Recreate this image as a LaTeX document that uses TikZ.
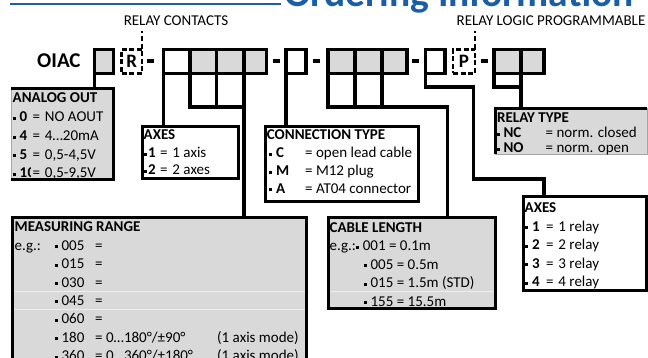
\documentclass[tikz,border=0pt]{standalone}
\usepackage{fontspec}
\setmainfont{Carlito}
\definecolor{boxgray}{RGB}{217,217,217}
\definecolor{titleblue}{HTML}{1B5EA6}
\definecolor{faint}{RGB}{238,238,238}
\newcommand\bul{\rule[1.9pt]{3pt}{3pt}}
\newcommand\halfzero{\tikz[baseline=0pt]{\clip (0pt,-1pt) rectangle (3.6pt,12pt); \node[inner sep=0pt,anchor=base west] at (0pt,0pt) {\textbf{0}};}}
% bullet row: #1 gap after bullet, #2 key box width, #3 key, #4 value
\newcommand\krow[4]{\bul\hspace{#1}\makebox[#2][l]{\textbf{#3}}=\hspace{4.8pt}#4}
\tikzset{
 codebox/.style={draw, line width=3.3pt, inner sep=0pt, outer sep=0pt, minimum height=24pt, anchor=north west},
 graybox/.style={codebox, fill=boxgray},
 dashbox/.style={draw, dash pattern=on 5pt off 2.5pt, line width=2.4pt, inner sep=0pt, outer sep=0pt, minimum height=24pt, anchor=north west, font=\fontsize{19}{19}\selectfont\bfseries},
 infobox/.style={draw, line width=3pt, inner sep=0pt, outer sep=0pt, anchor=north west},
 thinbox/.style={draw=gray!70, line width=0.8pt, inner sep=0pt, outer sep=0pt, anchor=north west},
 edge/.style={line width=3pt, line join=miter},
 info/.style={inner sep=0pt, anchor=base west},
 conn/.style={line width=3.3pt, line join=miter},
 hyph/.style={line width=4pt},
 dashline/.style={line width=2.4pt, dash pattern=on 5pt off 3pt},
 toplabel/.style={inner sep=0pt, anchor=base, font=\fontsize{15}{18}\selectfont},
 faintline/.style={draw=faint, line width=0.8pt},
}
\begin{document}
\begin{tikzpicture}[x=1pt,y=-1pt]
\useasboundingbox (0,0) rectangle (648,358);
\clip (0,0) rectangle (648,358);
% title
\node[inner sep=0pt, anchor=base west, font=\fontsize{39.5}{40}\selectfont\bfseries, text=titleblue] (title) at (284,6.5) {Ordering Information};
\draw[titleblue, line width=2.6pt] (10,4) -- (281,4);
% top labels
\node[toplabel] (lrc) at (176,26) {RELAY CONTACTS};
\node[toplabel] (lrp) at (551,26) {RELAY LOGIC PROGRAMMABLE};
% code
\node[inner sep=0pt, anchor=base west, font=\fontsize{21}{21}\selectfont\bfseries] (oiac) at (37,68) {OIAC};
\node[graybox, minimum width=19pt] (B1) at (94.5,49.5) {};
\node[dashbox, minimum width=20.5pt] (R) at (121.5,49.5) {R};
\node[codebox, minimum width=26.5pt] (B2) at (163.5,49.5) {};
\node[graybox, minimum width=26.5pt] (B3) at (190,49.5) {};
\node[graybox, minimum width=27.5pt] (B4) at (216.5,49.5) {};
\node[graybox, minimum width=22.5pt] (B5) at (244,49.5) {};
\node[codebox, minimum width=20pt] (B6) at (286,49.5) {};
\node[graybox, minimum width=27pt] (B7) at (328,49.5) {};
\node[graybox, minimum width=27pt] (B8) at (355,49.5) {};
\node[graybox, minimum width=25pt] (B9) at (382,49.5) {};
\node[codebox, minimum width=19.5pt] (B10) at (425.5,49.5) {};
\node[dashbox, minimum width=22pt] (P) at (453,49.5) {P};
\node[graybox, minimum width=27pt] (B11) at (494,49.5) {};
\node[graybox, minimum width=23pt] (B12) at (521,49.5) {};
% hyphens
\draw[hyph] (R.east) ++(5,0) -- ++(6.5,0);
\draw[hyph] (B5.east) ++(6.5,0) -- ++(7,0);
\draw[hyph] (B6.east) ++(7,0) -- ++(7,0);
\draw[hyph] (B9.east) ++(5,0) -- ++(6.5,0);
\draw[hyph] (P.east) ++(6,0) -- ++(6.5,0);
% dashed leaders
\draw[dashline] (R.north east) -- ++(0,-18.5);
\draw[dashline] (P.north east) -- ++(0,-18.5);
% info boxes
\node[thinbox, fill=boxgray, minimum width=102.5pt, minimum height=91.5pt] (AO) at (11,88.5) {};
\draw[edge] (AO.north west) -- (AO.north east) -- (AO.south east) -- (AO.south west);
\node[infobox, fill=white, minimum width=96.5pt, minimum height=52pt] (AX) at (142,126.5) {};
\node[infobox, fill=white, minimum width=153pt, minimum height=75pt] (CT) at (265,126.5) {};
\node[infobox, fill=boxgray, minimum width=293.5pt, minimum height=162pt] (MR) at (12.5,218) {};
\node[infobox, fill=boxgray, minimum width=167pt, minimum height=90.5pt] (CL) at (328.5,218) {};
\node[thinbox, fill=boxgray, minimum width=151.5pt, minimum height=46pt] (RT) at (495.5,108.5) {};
\draw[edge] (RT.south west) -- (RT.north west) -- (RT.north east);
\node[infobox, fill=white, minimum width=122.5pt, minimum height=93pt] (RA) at (523.5,197) {};
% faint scan lines
\draw[faintline] (14,291.5) -- (304.5,291.5);
\draw[faintline] (14,309.5) -- (304.5,309.5);
\draw[faintline] (330,291) -- (494,291);
% texts
\node[info, font=\fontsize{15}{18.75}\selectfont] (AOt) at (12.5,103) {\begin{tabular}[t]{@{}l@{}}
\textbf{ANALOG OUT}\\
\krow{4pt}{13pt}{0}{NO AOUT}\\
\krow{4pt}{13pt}{4}{4…20mA}\\
\krow{4pt}{13pt}{5}{0,5-4,5V}\\
\bul\hspace{4pt}\makebox[13pt][l]{\textbf{1}\halfzero}=\hspace{4.8pt}0,5-9,5V
\end{tabular}};
\node[info, font=\fontsize{15}{17.5}\selectfont] (AXt) at (143.5,140) {\begin{tabular}[t]{@{}l@{}}
\textbf{AXES}\\
\krow{1.5pt}{12pt}{1}{1 axis}\\
\krow{1.5pt}{12pt}{2}{2 axes}
\end{tabular}};
\node[info, font=\fontsize{15}{17.8}\selectfont] (CTt) at (266.7,140) {\begin{tabular}[t]{@{}l@{}}
\textbf{CONNECTION TYPE}\\
\makebox[38.3pt][l]{\hspace{1.6pt}\bul\hspace{4.5pt}\textbf{C}}= open lead cable\\
\makebox[38.3pt][l]{\hspace{1.6pt}\bul\hspace{4.5pt}\textbf{M}}= M12 plug\\
\makebox[38.3pt][l]{\hspace{1.6pt}\bul\hspace{4.5pt}\textbf{A}}= AT04 connector
\end{tabular}};
\node[info, font=\fontsize{15}{15}\selectfont] (RTt) at (497,122.5) {\begin{tabular}[t]{@{}l@{}}
\textbf{RELAY TYPE}\\
\makebox[48.5pt][l]{\bul\ \textbf{NC}}= norm. closed\\
\makebox[48.5pt][l]{\bul\ \textbf{NO}}= norm. open
\end{tabular}};
\node[info, font=\fontsize{15}{18.4}\selectfont] (RAt) at (524.5,213) {\begin{tabular}[t]{@{}l@{}}
\textbf{AXES}\\
\krow{4.5pt}{14pt}{1}{1 relay}\\
\krow{4.5pt}{14pt}{2}{2 relay}\\
\krow{4.5pt}{14pt}{3}{3 relay}\\
\krow{4.5pt}{14pt}{4}{4 relay}
\end{tabular}};
\node[info, font=\fontsize{15}{18.4}\selectfont] (CLt) at (329.5,232.5) {\begin{tabular}[t]{@{}l@{}}
\textbf{CABLE LENGTH}\\
e.g.:\kern0.5pt\bul\ 001 = 0.1m\\
\hspace{34.5pt}\bul\ 005 = 0.5m\\
\hspace{34.5pt}\bul\ 015 = 1.5m (STD)\\
\hspace{34.5pt}\bul\ 155 = 15.5m
\end{tabular}};
\node[info, font=\fontsize{15}{18.35}\selectfont] (MRt) at (14.5,232) {\begin{tabular}[t]{@{}l@{}}
\textbf{MEASURING RANGE}\\
\makebox[40.5pt][l]{e.g.:}\bul\ \makebox[33.6pt][l]{005}=\\
\hspace{40.5pt}\bul\ \makebox[33.6pt][l]{015}=\\
\hspace{40.5pt}\bul\ \makebox[33.6pt][l]{030}=\\
\hspace{40.5pt}\bul\ \makebox[33.6pt][l]{045}=\\
\hspace{40.5pt}\bul\ \makebox[33.6pt][l]{060}=\\
\hspace{40.5pt}\bul\ \makebox[33.6pt][l]{180}\makebox[122pt][l]{= 0…180°/±90°}(1 axis mode)\\
\hspace{40.5pt}\bul\ \makebox[33.6pt][l]{360}\makebox[122pt][l]{= 0…360°/±180°}(1 axis mode)
\end{tabular}};
% connectors
\coordinate (j1) at (244,107);
\coordinate (j2) at (447.5,107);
\coordinate (j3) at (473.5,87);
\coordinate (j4) at (473.5,179);
\coordinate (j5) at (544,179);
\coordinate (j6) at (521,87);
\draw[conn] (B1.south west) -- (B1.south west |- AO.north);
\draw[conn] (B2.south west) -- (B2.south west |- AX.north);
\draw[conn] (B3.south west) |- (j1);
\draw[conn] (B4.south west) -- (B4.south west |- j1);
\draw[conn] (B5.south west) -- (B5.south west |- MR.north);
\draw[conn] (B6.south west) -- (B6.south west |- CT.north);
\draw[conn] (B7.south west) |- (j2) -- (j2 |- CL.north);
\draw[conn] (B8.south west) -- (B8.south west |- j2);
\draw[conn] (B9.south west) -- (B9.south west |- j2);
\draw[conn] (B10.south west) |- (j3) -- (j4) -- (j5) -- (j5 |- RA.north);
\draw[conn] (B11.south west) |- (j6);
\draw[conn] (B12.south west) -- (B12.south west |- RT.north);
\end{tikzpicture}
\end{document}
